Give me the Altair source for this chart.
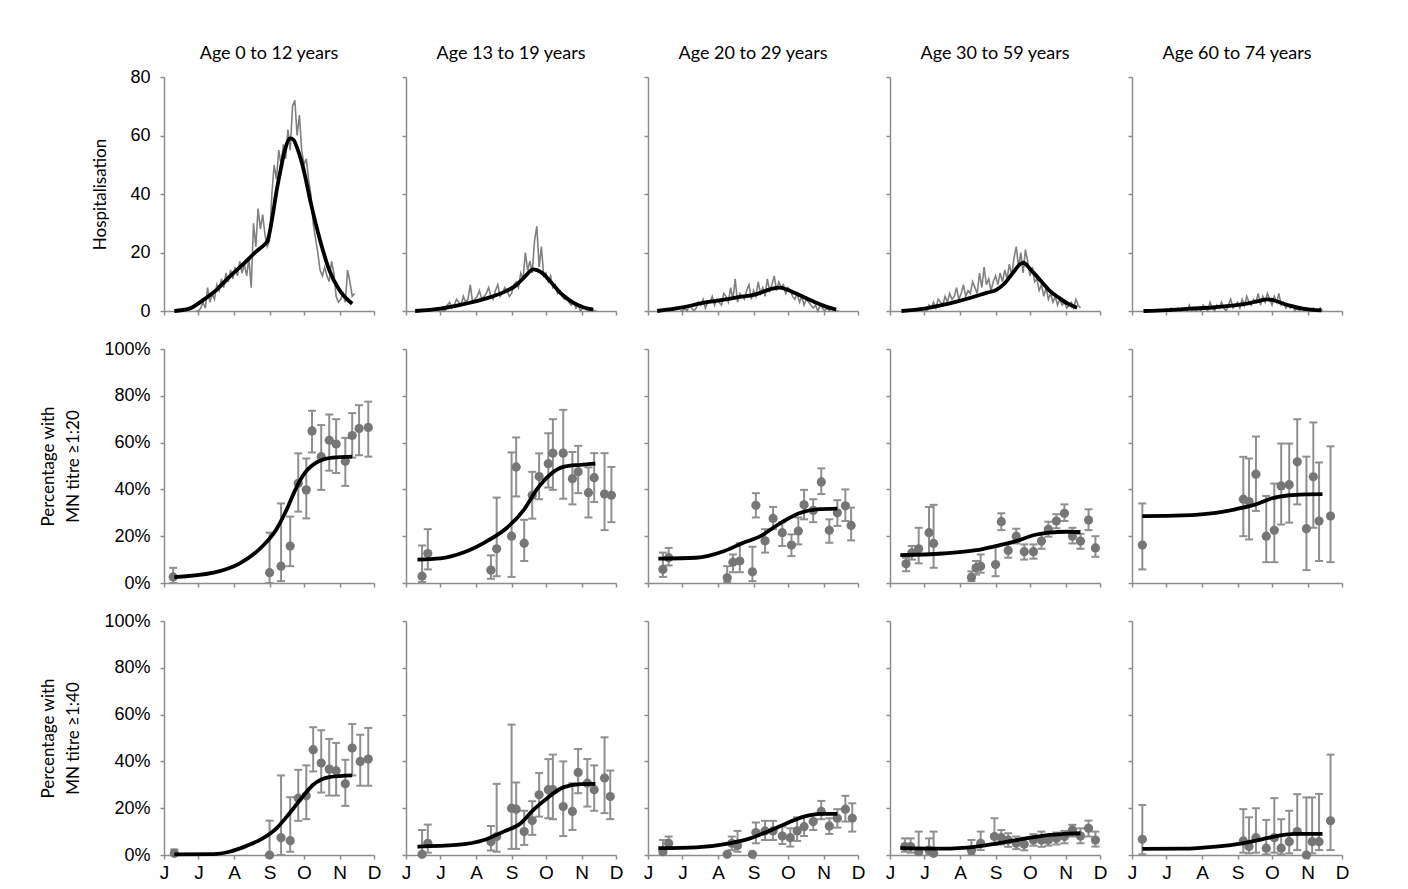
import json
import altair as alt
import pandas as pd

# ---------------- axes / categories ----------------
MONTH_DAYS = [0, 30, 61, 92, 122, 153, 183]
MONTH_LETTERS = ["J", "J", "A", "S", "O", "N", "D"]
AGE_GROUPS = ["Age 0 to 12 years", "Age 13 to 19 years", "Age 20 to 29 years",
              "Age 30 to 59 years", "Age 60 to 74 years"]
HOSP_TICKS = [0, 20, 40, 60, 80]
PCT_TICKS = [0, 20, 40, 60, 80, 100]

# ---------------- hospitalisations (observed every 2 days from day 28) ----------------
HOSP_FIRST_DAY = 28
HOSP_STEP = 2
hosp_c1 = [0, 0, 1, 3, 1, 8, 3, 6, 4, 9, 7, 11, 8, 13, 10, 14, 11, 15, 12, 17,
           13, 16, 12, 18, 8, 30, 22, 35, 28, 33, 26, 22, 24, 40, 50, 45, 55, 50, 57, 52,
           62, 55, 70, 72, 60, 67, 55, 50, 52, 45, 40, 30, 25, 20, 14, 12, 15, 12, 10, 17,
           13, 5, 3, 4, 6, 3, 14, 10, 5, 6]
hosp_c2 = [0, 1, 0, 0, 2, 3, 1, 2, 4, 3, 2, 5, 3, 4, 9, 3, 4, 5, 7, 4,
           5, 6, 8, 5, 4, 7, 9, 5, 6, 8, 7, 5, 6, 9, 10, 8, 13, 11, 20, 14,
           17, 13, 24, 29, 15, 22, 12, 13, 10, 12, 8, 9, 6, 7, 5, 4, 5, 3, 2, 3,
           1, 2, 0, 1, 1, 0, 0, 1, 0, 0]
hosp_c3 = [0, 0, 1, 0, 2, 1, 0, 1, 3, 2, 4, 1, 3, 3, 5, 2, 4, 3, 2, 6,
           5, 3, 8, 4, 11, 3, 6, 5, 4, 7, 9, 4, 7, 5, 10, 6, 8, 5, 11, 7,
           9, 12, 7, 10, 8, 9, 6, 8, 7, 5, 4, 6, 3, 5, 2, 4, 3, 2, 1, 2,
           0, 2, 1, 0, 1, 0, 1, 0, 0, 0]
hosp_c4 = [0, 1, 0, 2, 1, 3, 1, 4, 3, 2, 5, 3, 6, 4, 5, 8, 4, 6, 9, 5,
           7, 6, 10, 8, 6, 13, 8, 15, 9, 11, 7, 10, 12, 9, 13, 10, 14, 11, 16, 12,
           18, 22, 15, 20, 13, 21, 17, 12, 15, 10, 11, 7, 9, 5, 8, 4, 6, 3, 5, 2,
           4, 2, 3, 1, 2, 3, 1, 4, 2, 1]
hosp_c5 = [0, 0, 0, 1, 0, 0, 1, 0, 0, 1, 0, 2, 0, 1, 0, 1, 0, 2, 1, 0,
           3, 1, 0, 2, 1, 3, 1, 0, 2, 4, 1, 2, 3, 1, 4, 2, 5, 3, 2, 4,
           3, 6, 2, 5, 3, 6, 4, 2, 5, 3, 6, 2, 3, 1, 2, 1, 2, 0, 1, 0,
           1, 0, 1, 0, 0, 1, 0, 0, 1, 0]

hosp_fit_day_c1 = [9, 22, 34, 46, 57, 69, 80, 89, 90, 95, 98, 101, 105, 110, 113, 115, 121, 128, 136, 144, 153, 164]
hosp_fit_c1 = [0, 0.8, 3.7, 7.3, 11.7, 16, 20.2, 23.3, 23.8, 33.4, 40.8, 47, 54.5, 59, 58.5, 56.8, 49.4, 36.8, 24.2, 14, 7.1, 2.5]
hosp_fit_day_c2 = [8, 30, 52, 70, 87, 95, 103, 111, 118, 126, 135, 145, 155, 163]
hosp_fit_c2 = [0, 0.8, 2.5, 4.3, 6.8, 8.5, 11.5, 14.2, 13.2, 10, 6, 3, 1.2, 0.5]
hosp_fit_day_c3 = [8, 30, 47, 65, 80, 94, 107, 115, 122, 130, 145, 155, 164]
hosp_fit_c3 = [0, 1.2, 2.7, 3.8, 4.8, 5.7, 7.5, 8, 7.2, 5.8, 3.1, 1.5, 0.5]
hosp_fit_day_c4 = [10, 30, 44, 58, 71, 84, 93, 100, 107, 114, 116, 123, 131, 139, 147, 155, 163]
hosp_fit_c4 = [0, 0.8, 1.9, 3.2, 4.6, 6.2, 7.3, 9.5, 13, 16.2, 16.5, 14, 10.5, 7, 4.6, 2.5, 1.1]
hosp_fit_day_c5 = [10, 30, 51, 70, 89, 100, 110, 118, 125, 132, 140, 149, 165]
hosp_fit_c5 = [0, 0.3, 0.8, 1.2, 1.9, 2.5, 3.4, 4, 3.5, 2.5, 1.6, 0.8, 0.2]

# ---------------- MN titre >= 1:20 ----------------
mn20_day_c1 = [8, 92, 102, 110, 117, 124, 129, 137, 144, 150, 158, 164, 170, 178]
mn20_pct_c1 = [2.6, 4.4, 7.2, 15.8, 42.6, 39.8, 65, 54, 61, 59.4, 52, 63, 66, 66.5]
mn20_lo_c1 = [0, 0, 0.8, 7.2, 30.5, 27.6, 55.8, 39.8, 48, 47, 41.5, 53.6, 54.6, 54]
mn20_hi_c1 = [6.5, 21.5, 34, 28.4, 55.4, 53.2, 73.6, 67.5, 72, 70, 62, 72.6, 76, 77.5]
mn20_fit_day_c1 = [9, 43, 66, 86, 98, 107, 114, 121, 133, 147, 164]
mn20_fit_c1 = [2.5, 4.4, 8.4, 15.8, 23, 31.5, 39.4, 45.8, 51.5, 53.6, 54]

mn20_day_c2 = [14, 19, 74, 79, 92, 96, 103, 110, 116, 124, 128, 137, 145, 150, 159, 164, 173, 179]
mn20_pct_c2 = [2.9, 12.6, 5.5, 14.6, 20, 49.6, 17, 37.5, 45.5, 51, 55.5, 55.5, 44.6, 47.5, 38.6, 45, 38, 37.5]
mn20_lo_c2 = [0.4, 5.8, 1.8, 2.9, 2.6, 37, 9.4, 27.5, 35.8, 40.8, 39.8, 36, 33.6, 38.4, 28, 34.6, 22.6, 26]
mn20_hi_c2 = [16, 23, 11.8, 36.5, 55.8, 62.2, 27, 47.5, 55.4, 64, 70, 74, 56, 58.6, 49.4, 55.5, 55.5, 49.6]
mn20_fit_day_c2 = [10, 30, 50, 71, 88, 103, 114, 126, 137, 152, 165]
mn20_fit_c2 = [10, 10.5, 13, 18, 23.6, 31.5, 40, 46.5, 49.6, 50.5, 51]

mn20_day_c3 = [13, 18, 69, 74, 80, 91, 94, 102, 109, 117, 125, 131, 136, 144, 151, 158, 165, 172, 177]
mn20_pct_c3 = [5.8, 10.8, 2.2, 8.9, 9.4, 4.8, 33.2, 18, 27.6, 21.5, 16.2, 22.2, 33.4, 31, 43.2, 22.5, 30, 33, 24.6]
mn20_lo_c3 = [2.6, 7.5, 0.4, 4.6, 4.6, 0.8, 28, 13, 23, 15.8, 11.5, 16.5, 27.2, 26, 38, 17.2, 24.4, 26.5, 18.2]
mn20_hi_c3 = [13, 15, 7.2, 12.2, 17, 15.5, 38.4, 23, 32.5, 26, 20.8, 28, 39.8, 35.8, 49, 27.2, 35.4, 40, 32.2]
mn20_fit_day_c3 = [9, 42, 66, 83, 98, 109, 121, 133, 147, 165]
mn20_fit_c3 = [10.4, 10.8, 13.6, 17.2, 20, 23.6, 27.2, 30, 31.5, 31.8]

mn20_day_c4 = [14, 19, 25, 34, 38, 71, 75, 79, 92, 97, 103, 110, 117, 125, 132, 138, 145, 152, 159, 166, 173, 179]
mn20_pct_c4 = [8.2, 12.9, 14.6, 21.5, 16.9, 2.5, 6.5, 7.2, 7.9, 26.2, 13.9, 20, 13.4, 13.4, 17.9, 22.9, 26.5, 29.8, 20, 17.9, 26.9, 15]
mn20_lo_c4 = [5, 10, 8.4, 12.2, 6.5, 0.8, 3.6, 4.4, 2.9, 22.6, 10.8, 16.9, 10, 10.4, 14.6, 19.8, 23.4, 26.5, 16.9, 14.6, 22.6, 11.2]
mn20_hi_c4 = [10.8, 15.8, 23.6, 32.5, 33.4, 5, 9.4, 12.2, 15.5, 29.8, 17.2, 23.2, 16.5, 16.5, 21, 26.2, 29.4, 33.6, 23.6, 21, 31.5, 20]
mn20_fit_day_c4 = [9, 46, 75, 92, 110, 125, 139, 154, 166]
mn20_fit_c4 = [11.9, 12.6, 14, 15.8, 17.9, 20.4, 21.5, 21.9, 21.8]

mn20_day_c5 = [9, 97, 102, 108, 117, 124, 130, 137, 144, 152, 158, 163, 173]
mn20_pct_c5 = [16.2, 35.8, 34.8, 46.5, 20, 22.5, 41.5, 42, 51.8, 23.2, 45.4, 26.5, 28.6]
mn20_lo_c5 = [5.8, 20, 18.6, 30.8, 8.9, 8.9, 25, 25.8, 33.6, 5.5, 23.6, 9.4, 8.9]
mn20_hi_c5 = [34, 53.9, 53.2, 62.6, 37.2, 42.5, 59.6, 59.6, 70, 54, 68.6, 51.5, 58.4]
mn20_fit_day_c5 = [9, 44, 73, 90, 108, 122, 137, 151, 166]
mn20_fit_c5 = [28.6, 28.9, 30, 31.5, 33.6, 36.2, 37.5, 37.9, 38]

# ---------------- MN titre >= 1:40 ----------------
mn40_day_c1 = [9, 92, 102, 110, 117, 124, 130, 137, 144, 150, 158, 164, 171, 178]
mn40_pct_c1 = [0.7, 0, 7.4, 6.1, 24.3, 25.3, 45, 39.3, 36.7, 36, 30.4, 45.7, 40, 41]
mn40_lo_c1 = [0, 0, 0, 1.4, 14.6, 15.3, 35.7, 26.7, 25.4, 25.4, 21, 34, 29.6, 29.6]
mn40_hi_c1 = [2.4, 14.7, 34, 24.7, 36.4, 38.3, 54.6, 53.3, 49.6, 47.9, 40.7, 56, 51.4, 54.3]
mn40_fit_day_c1 = [9, 43, 57, 72, 86, 98, 107, 114, 121, 130, 144, 164]
mn40_fit_c1 = [0.3, 0.4, 1.4, 3.9, 7.1, 11.4, 16.4, 20.7, 25, 30, 33.3, 34]

mn40_day_c2 = [14, 19, 74, 79, 92, 96, 103, 110, 116, 124, 128, 137, 145, 150, 158, 164, 173, 178]
mn40_pct_c2 = [0.3, 5, 5.7, 7.9, 20, 19.6, 10, 14.7, 25.7, 27.9, 27.9, 20.7, 18.6, 35.3, 30.7, 27.9, 32.9, 25]
mn40_lo_c2 = [0, 1, 1.9, 1.4, 2.6, 2.6, 4.3, 8.6, 16.4, 15.7, 15.3, 8.1, 10.7, 26.4, 20.7, 18.9, 17.9, 15.3]
mn40_hi_c2 = [10.7, 13, 12.4, 30.4, 55.7, 31, 18.9, 23, 35, 41, 42.9, 40, 30.7, 45.3, 41, 38.3, 50.3, 36.1]
mn40_fit_day_c2 = [10, 44, 68, 85, 100, 111, 123, 137, 152, 165]
mn40_fit_c2 = [3.6, 4.3, 6.4, 10, 13.6, 19.3, 24.3, 28.9, 30.3, 30.4]

mn40_day_c3 = [13, 18, 69, 73, 78, 91, 94, 102, 109, 117, 124, 130, 136, 144, 151, 158, 165, 172, 178]
mn40_pct_c3 = [1.4, 5, 0.3, 5, 4.1, 0.3, 9.6, 10.3, 10.3, 8.1, 7.4, 10.3, 12.1, 14.3, 18.6, 12.4, 15.7, 19.6, 15.7]
mn40_lo_c3 = [0, 2.9, 0.3, 2.1, 1.4, 0.3, 5, 6.4, 6.4, 4.7, 3.6, 6, 8.1, 10.7, 15.3, 9, 11.7, 14.3, 10]
mn40_hi_c3 = [6.4, 7.9, 0.3, 7.9, 10.3, 0.3, 13.9, 14.6, 14.6, 12.1, 11.4, 16.1, 16.4, 17.1, 23.1, 15.7, 19.6, 25.3, 22.1]
mn40_fit_day_c3 = [9, 42, 71, 89, 106, 121, 136, 150, 165]
mn40_fit_c3 = [2.9, 3.3, 5, 7.1, 10.4, 13.6, 16.4, 17.6, 17.6]

mn40_day_c4 = [13, 18, 25, 34, 38, 71, 79, 91, 97, 103, 110, 117, 125, 132, 138, 145, 152, 159, 166, 173, 179]
mn40_pct_c4 = [3.6, 3.6, 1.4, 2.1, 0.7, 1.9, 5, 7.9, 7.4, 6.4, 5, 4.6, 6.4, 6.4, 6.4, 7.1, 7.9, 10.7, 8.1, 11.4, 6.4]
mn40_lo_c4 = [1.4, 1, 0, 0, 0, 0, 2.1, 4.3, 4.5, 3.5, 2.5, 2, 4, 3.5, 4, 4.5, 5, 7.9, 5, 7.9, 3.6]
mn40_hi_c4 = [7.1, 7.1, 10, 7.1, 10, 6.4, 10, 15.7, 10.7, 9.3, 7.9, 7.4, 8.9, 10, 8.6, 9.6, 10.3, 12.9, 11.4, 14.7, 10]
mn40_fit_day_c4 = [9, 46, 75, 98, 119, 139, 151, 166]
mn40_fit_c4 = [2.9, 2.7, 3.6, 5.3, 7.1, 8.6, 9, 9.3]

mn40_day_c5 = [9, 97, 102, 108, 117, 124, 130, 137, 144, 152, 157, 163, 173]
mn40_pct_c5 = [6.7, 6, 3.6, 7.4, 2.9, 7.4, 2.9, 5.7, 10, 0, 5.7, 5.7, 14.6]
mn40_lo_c5 = [0.3, 1, 0.7, 1, 0.3, 1, 0.3, 0.7, 2.1, 0, 0.7, 2.1, 2.1]
mn40_hi_c5 = [21.4, 19.6, 16.1, 20, 15, 24.3, 15.3, 18.9, 26, 24.6, 24.6, 26.1, 42.9]
mn40_fit_day_c5 = [9, 44, 73, 96, 113, 128, 142, 166]
mn40_fit_c5 = [2.6, 2.7, 3.6, 5, 6.7, 8.3, 9, 9]

# ---------------- styling ----------------
W, H = 210, 234
AXIS_GREY = "#8c8c8c"
OBS_GREY = "#808080"
PT_GREY = "#767676"
BAR_GREY = "#8f8f8f"
TITLE_FONT = "Lato"
LABEL_FONT = "Liberation Sans"

x_label_expr = "{}[indexof({}, datum.value)]".format(json.dumps(MONTH_LETTERS), json.dumps(MONTH_DAYS))
x_scale = alt.Scale(domain=[0, 183], nice=False, zero=False)


def x_axis(show_labels):
    return alt.Axis(values=MONTH_DAYS, labels=show_labels, labelExpr=x_label_expr, title=None,
                    labelFontSize=19, labelPadding=4, labelFlush=False, labelOverlap=False)


def y_axis(show, ticks, title, pct):
    kw = dict(values=ticks, labels=show, labelFlush=False, labelOverlap=False, labelPadding=10)
    if pct:
        kw["labelExpr"] = "datum.value + '%'"
    if show:
        kw["title"] = title
        kw["titlePadding"] = 20 if not pct else 21
        kw["titleLineHeight"] = 25
    else:
        kw["title"] = None
    return alt.Axis(**kw)


def hosp_panel(i, obs, fit_day, fit):
    df_obs = pd.DataFrame({"day": [HOSP_FIRST_DAY + HOSP_STEP * k for k in range(len(obs))], "value": obs})
    df_fit = pd.DataFrame({"day": fit_day, "value": fit})
    x = alt.X("day:Q", scale=x_scale, axis=x_axis(False))
    y = alt.Y("value:Q", scale=alt.Scale(domain=[0, 80], nice=False),
              axis=y_axis(i == 0, HOSP_TICKS, "Hospitalisation", False))
    grey = alt.Chart(df_obs).mark_line(color=OBS_GREY, strokeWidth=1.6).encode(x=x, y=y)
    black = alt.Chart(df_fit).mark_line(color="black", strokeWidth=3.8, interpolate="monotone").encode(x=x, y=y)
    return alt.layer(grey, black).properties(
        width=W, height=H,
        title=alt.Title(AGE_GROUPS[i], font=TITLE_FONT, fontSize=18, fontWeight="normal",
                        anchor="middle", offset=5 if i == 0 else 13, color="black"))


def mn_panel(i, day, pct, lo, hi, fit_day, fit, title, bottom):
    df = pd.DataFrame({"day": day, "pct": pct, "lo": lo, "hi": hi})
    df_fit = pd.DataFrame({"day": fit_day, "pct": fit})
    ys = alt.Scale(domain=[0, 100], nice=False)
    yax = y_axis(i == 0, PCT_TICKS, title, True)
    x = alt.X("day:Q", scale=x_scale, axis=x_axis(bottom))
    rule = alt.Chart(df).mark_rule(color=BAR_GREY, strokeWidth=2).encode(
        x=x, y=alt.Y("lo:Q", scale=ys, axis=yax), y2="hi:Q")
    cap_lo = alt.Chart(df).mark_tick(orient="horizontal", size=8, thickness=2, color=BAR_GREY, opacity=1).encode(
        x=x, y=alt.Y("lo:Q", scale=ys, axis=yax))
    cap_hi = alt.Chart(df).mark_tick(orient="horizontal", size=8, thickness=2, color=BAR_GREY, opacity=1).encode(
        x=x, y=alt.Y("hi:Q", scale=ys, axis=yax))
    pts = alt.Chart(df).mark_circle(size=85, color=PT_GREY, opacity=1).encode(
        x=x, y=alt.Y("pct:Q", scale=ys, axis=yax))
    line = alt.Chart(df_fit).mark_line(color="black", strokeWidth=3.8, interpolate="monotone").encode(
        x=x, y=alt.Y("pct:Q", scale=ys, axis=yax))
    return alt.layer(rule, cap_lo, cap_hi, pts, line).properties(width=W, height=H)


hosp_obs = [hosp_c1, hosp_c2, hosp_c3, hosp_c4, hosp_c5]
hosp_fd = [hosp_fit_day_c1, hosp_fit_day_c2, hosp_fit_day_c3, hosp_fit_day_c4, hosp_fit_day_c5]
hosp_fv = [hosp_fit_c1, hosp_fit_c2, hosp_fit_c3, hosp_fit_c4, hosp_fit_c5]

mn20 = [
    (mn20_day_c1, mn20_pct_c1, mn20_lo_c1, mn20_hi_c1, mn20_fit_day_c1, mn20_fit_c1),
    (mn20_day_c2, mn20_pct_c2, mn20_lo_c2, mn20_hi_c2, mn20_fit_day_c2, mn20_fit_c2),
    (mn20_day_c3, mn20_pct_c3, mn20_lo_c3, mn20_hi_c3, mn20_fit_day_c3, mn20_fit_c3),
    (mn20_day_c4, mn20_pct_c4, mn20_lo_c4, mn20_hi_c4, mn20_fit_day_c4, mn20_fit_c4),
    (mn20_day_c5, mn20_pct_c5, mn20_lo_c5, mn20_hi_c5, mn20_fit_day_c5, mn20_fit_c5),
]
mn40 = [
    (mn40_day_c1, mn40_pct_c1, mn40_lo_c1, mn40_hi_c1, mn40_fit_day_c1, mn40_fit_c1),
    (mn40_day_c2, mn40_pct_c2, mn40_lo_c2, mn40_hi_c2, mn40_fit_day_c2, mn40_fit_c2),
    (mn40_day_c3, mn40_pct_c3, mn40_lo_c3, mn40_hi_c3, mn40_fit_day_c3, mn40_fit_c3),
    (mn40_day_c4, mn40_pct_c4, mn40_lo_c4, mn40_hi_c4, mn40_fit_day_c4, mn40_fit_c4),
    (mn40_day_c5, mn40_pct_c5, mn40_lo_c5, mn40_hi_c5, mn40_fit_day_c5, mn40_fit_c5),
]

panels = []
for i in range(5):
    panels.append(hosp_panel(i, hosp_obs[i], hosp_fd[i], hosp_fv[i]))
for i in range(5):
    panels.append(mn_panel(i, *mn20[i], ["Percentage with", "MN titre \u22651:20"], False))
for i in range(5):
    panels.append(mn_panel(i, *mn40[i], ["Percentage with", "MN titre \u22651:40"], True))

chart = alt.concat(
    *panels, columns=5, bounds="flush",
    spacing=alt.RowColnumber(row=38, column=32),
).properties(
    padding={"left": 31, "top": 37, "right": 5, "bottom": 5},
    background="white",
).configure_view(
    stroke=None
).configure_axis(
    grid=False, domainColor=AXIS_GREY, domainWidth=1.5, tickColor=AXIS_GREY, tickWidth=1.5, tickSize=4,
    labelFont=LABEL_FONT, labelFontSize=18, labelColor="black",
    titleFont=TITLE_FONT, titleFontSize=17, titleFontWeight="normal", titleColor="black",
)

chart.save("out.html", embed_options={"renderer": "svg", "actions": False})
